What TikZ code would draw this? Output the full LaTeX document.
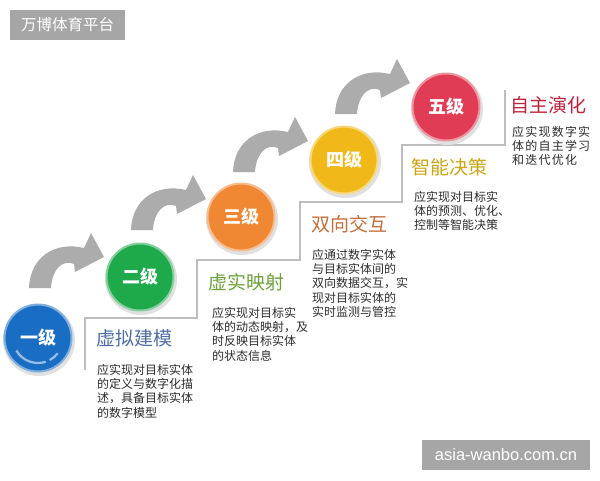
\documentclass[tikz,border=0pt]{standalone}
\usepackage{fontspec}
\setmainfont{Liberation Sans}
\newfontfamily\cjk{Noto Sans CJK SC}
\definecolor{boxgray}{RGB}{166,166,166}
\definecolor{arrowgray}{RGB}{172,172,172}
\definecolor{stairgray}{RGB}{190,190,190}
\definecolor{bodyc}{RGB}{45,45,45}
\definecolor{cblue}{RGB}{25,110,195}
\definecolor{cgreen}{RGB}{30,170,75}
\definecolor{corange}{RGB}{240,135,50}
\definecolor{cyellow}{RGB}{240,185,25}
\definecolor{cred}{RGB}{225,60,85}
\definecolor{hblue}{RGB}{80,110,165}
\definecolor{hgreen}{RGB}{110,160,60}
\definecolor{horange}{RGB}{195,110,60}
\definecolor{hyellow}{RGB}{205,165,20}
\definecolor{hred}{RGB}{190,35,60}
\tikzset{
  levelc/.style={circle, minimum size=67pt, inner sep=0pt, fill=#1, draw=#1!55!white, line width=2pt,
     text=white, font=\cjk\bfseries\fontsize{18}{20}\selectfont},
  headc/.style={anchor=west, inner sep=0pt, text=#1, font=\cjk\fontsize{19}{20}\selectfont},
  bodyt/.style={anchor=north west, inner sep=0pt, align=left, text=bodyc, font=\cjk\fontsize{12}{14.3}\selectfont},
  wmark/.style={fill=boxgray, text=white, inner sep=0pt},
  curvearrow/.pic={
    \fill[arrowgray] (0,0) .. controls (1,-31) and (26,-47) .. (55,-40)
      -- (62,-55) -- (75,-31) -- (46,-16) -- (45,-24)
      .. controls (33,-29) and (23,-18) .. (22,0) -- cycle;
  }
}
\begin{document}
\begin{tikzpicture}[x=1pt,y=-1pt]
\useasboundingbox (0,0) rectangle (600,480);
\fill[white] (0,0) rectangle (600,480);

% watermark boxes
\node[wmark, minimum width=115pt, minimum height=30pt, font=\cjk\fontsize{15.5}{17}\selectfont] (wm1) at (67.5,25) {万博体育平台};
\node[wmark, minimum width=168pt, minimum height=30pt, font=\fontsize{16.5}{18}\selectfont] (wm2) at (506,455) {asia-wanbo.com.cn};

% staircase
\draw[stairgray, line width=1.3pt] (85,370) -- (85,318) -- (197,318) -- (197,260) -- (300,260) -- (300,202) -- (402,202) -- (402,145) -- (505,145) -- (505,90);

% curved arrows
\pic at (29,288) {curvearrow};
\pic at (131,230) {curvearrow};
\pic at (233,172) {curvearrow};
\pic at (335,114) {curvearrow};

% circle shadows
\foreach \p in {(39,340),(141,279),(242,219),(345,162),(447,109)}
  \fill[black!12] \p circle (36);

% circles
\node[levelc=cblue]   (c1) at (38,338)  {一级};
\draw[cblue!45!white, line width=2.2pt] (38,338) ++(150:25) arc (150:72:25);
\draw[cblue!45!white, line width=2.2pt] (38,338) ++(62:25) arc (62:38:25);
\node[levelc=cgreen]  (c2) at (140,277) {二级};
\node[levelc=corange] (c3) at (241,217) {三级};
\node[levelc=cyellow] (c4) at (344,160) {四级};
\node[levelc=cred]    (c5) at (446,107) {五级};

% headings
\node[headc=hblue]   (h1) at (96,338)  {虚拟建模};
\node[headc=hgreen]  (h2) at (208,282) {虚实映射};
\node[headc=horange] (h3) at (311,224) {双向交互};
\node[headc=hyellow] (h4) at (411,167) {智能决策};
\node[headc=hred]    (h5) at (510,105) {自主演化};

% body texts
\node[bodyt] (b1) at (97,364) {应实现对目标实体\\的定义与数字化描\\述，具备目标实体\\的数字模型};
\node[bodyt] (b2) at (212,307) {应实现对目标实\\体的动态映射，及\\时反映目标实体\\的状态信息};
\node[bodyt] (b3) at (312,249) {应通过数字实体\\与目标实体间的\\双向数据交互，实\\现对目标实体的\\实时监测与管控};
\node[bodyt] (b4) at (414,191) {应实现对目标实\\体的预测、优化、\\控制等智能决策};
\node[bodyt, font=\cjk\fontsize{12}{14.3}\selectfont\addfontfeature{LetterSpace=10}] (b5) at (512,126) {应实现数字实\\体的自主学习\\和迭代优化};
\end{tikzpicture}
\end{document}
